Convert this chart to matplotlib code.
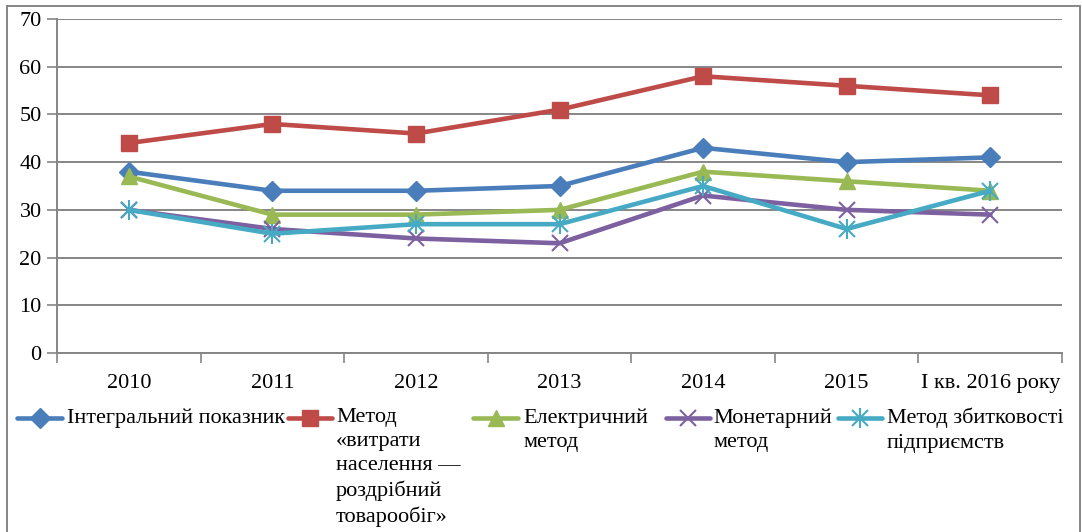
import numpy as np
import matplotlib
matplotlib.use("Agg")
import matplotlib.pyplot as plt
from matplotlib.lines import Line2D
from matplotlib.patches import Rectangle

plt.rcParams['font.family'] = ['Liberation Serif', 'DejaVu Serif']

# Дані
years = ["2010", "2011", "2012", "2013", "2014", "2015", "І кв. 2016 року"]
integral = [38, 34, 34, 35, 43, 40, 41]
vytraty = [44, 48, 46, 51, 58, 56, 54]
elektr = [37, 29, 29, 30, 38, 36, 34]
monet = [30, 26, 24, 23, 33, 30, 29]
zbytk = [30, 25, 27, 27, 35, 26, 34]

labels = ["Інтегральний показник",
          "Метод\n«витрати\nнаселення —\nроздрібний\nтоварообіг»",
          "Електричний\nметод",
          "Монетарний\nметод",
          "Метод збитковості\nпідприємств"]
colors = ["#4a7ebb", "#be4b48", "#98b954", "#7d60a0", "#46aac5"]
markers = ["D", "s", "^", "x", "*"]

series = [integral, vytraty, elektr, monet, zbytk]

fig = plt.figure(figsize=(10.82, 5.32), dpi=100)
ax = fig.add_axes([57/1082, 1 - 353/532, (1062-57)/1082, (353-19)/532])

x = np.arange(len(years))
for vals, c, m in zip(series, colors, markers):
    if m == "*":
        # зірочка як у Excel: x + вертикальна риска
        ax.plot(x, vals, color=c, lw=3.3, zorder=3)
        ax.plot(x, vals, ls="none", marker="x", ms=11, mew=1.5, color=c, zorder=4)
        ax.plot(x, vals, ls="none", marker="|", ms=14, mew=1.5, color=c, zorder=4)
    elif m == "x":
        ax.plot(x, vals, color=c, lw=3.3, marker="x", ms=11, mew=1.5, zorder=3)
    else:
        ms = {"D": 10, "s": 11, "^": 12}[m]
        ax.plot(x, vals, color=c, lw=3.3, marker=m, ms=ms, zorder=3)

ax.set_xlim(-0.5, len(years) - 0.5)
ax.set_ylim(0, 70)
ax.set_yticks(np.arange(0, 71, 10))
ax.yaxis.grid(True, color="#868686", lw=1.4)
ax.set_axisbelow(True)

ax.set_xticks(x)
ax.set_xticklabels(years)
ax.set_xticks(np.arange(-0.5, len(years)), minor=True)
ax.tick_params(axis="x", which="major", length=0, pad=15, labelsize=16)
ax.tick_params(axis="x", which="minor", length=7, width=1.2, color="#868686")
ax.tick_params(axis="y", length=7, width=1.2, color="#868686", labelsize=16, pad=4)

for s in ["top", "right"]:
    ax.spines[s].set_visible(False)
for s in ["left", "bottom"]:
    ax.spines[s].set_color("#868686")
    ax.spines[s].set_linewidth(1.4)

# Легенда вручну (текст у кілька рядків, маркер на рівні першого рядка)
W, H = 1082, 532
handle_x = [(17, 62), (288, 332), (473, 518), (666, 710), (838, 882)]
text_x = [67, 336, 523, 713, 887]
ly = 418
for (x0, x1), tx, lab, c, m in zip(handle_x, text_x, labels, colors, markers):
    yy = 1 - ly / H
    fig.add_artist(Line2D([x0 / W, x1 / W], [yy, yy], color=c, lw=3.3,
                          solid_capstyle="round"))
    xm = (x0 + x1) / 2 / W
    if m == "*":
        fig.add_artist(Line2D([xm], [yy], ls="none", marker="x", ms=11, mew=1.5, color=c))
        fig.add_artist(Line2D([xm], [yy], ls="none", marker="|", ms=14, mew=1.5, color=c))
    elif m == "x":
        fig.add_artist(Line2D([xm], [yy], ls="none", marker="x", ms=11, mew=1.5, color=c))
    else:
        ms = {"D": 10, "s": 11, "^": 12}[m]
        fig.add_artist(Line2D([xm], [yy], ls="none", marker=m, ms=ms, color=c))
    fig.text(tx / W, 1 - 408 / H, lab, fontsize=16, va="top", ha="left",
             linespacing=1.36)

# Рамка навколо діаграми
fig.add_artist(Rectangle((7 / W, -0.05), (1080 - 7) / W, 1.05 - 6 / H,
                         fill=False, edgecolor="#868686", lw=1.4))

fig.savefig("out.png", dpi=100)
